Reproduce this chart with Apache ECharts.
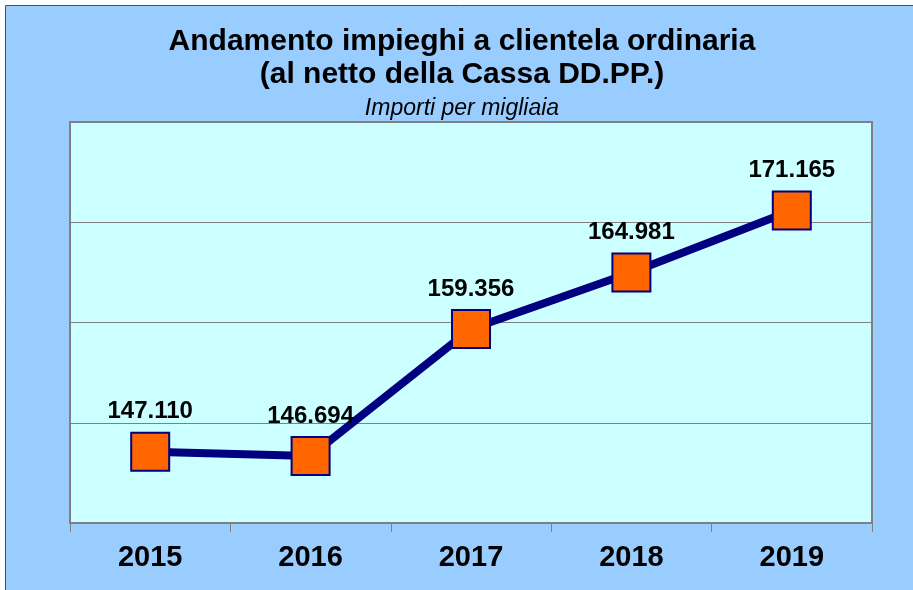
<!DOCTYPE html>
<html>
<head>
<meta charset="utf-8">
<script src="https://cdn.jsdelivr.net/npm/echarts@6/dist/echarts.min.js"></script>
<style>
  html, body { margin: 0; padding: 0; background: #ffffff; }
  #chart { width: 913px; height: 590px; }
</style>
</head>
<body>
<div id="chart"></div>
<script>
// anni e importi (in migliaia)
var anni = ['2015', '2016', '2017', '2018', '2019'];
var impieghi = [147.110, 146.694, 159.356, 164.981, 171.165];

var myChart = echarts.init(document.getElementById('chart'));

var option = {
    backgroundColor: '#ffffff',
    animation: false,
    graphic: [
        {
            type: 'rect',
            z: -10,
            shape: { x: 5.5, y: 5.5, width: 930, height: 600 },
            style: { fill: '#99CCFF', stroke: '#505050', lineWidth: 1 }
        }
    ],
    title: [
        {
            text: 'Andamento impieghi a clientela ordinaria\n(al netto della Cassa DD.PP.)',
            left: 462,
            textAlign: 'center',
            top: 25,
            padding: 0,
            textStyle: {
                fontFamily: 'Liberation Sans, Arial, sans-serif',
                fontSize: 30,
                fontWeight: 'bold',
                color: '#000',
                lineHeight: 33
            }
        },
        {
            text: 'Importi per migliaia',
            left: 462,
            textAlign: 'center',
            top: 97,
            padding: 0,
            textStyle: {
                fontFamily: 'Liberation Sans, Arial, sans-serif',
                fontSize: 23,
                fontStyle: 'italic',
                fontWeight: 'normal',
                color: '#000'
            }
        }
    ],
    grid: {
        left: 70,
        top: 122,
        width: 802,
        height: 401,
        show: true,
        backgroundColor: '#CCFFFF',
        borderColor: '#808080',
        borderWidth: 2
    },
    xAxis: {
        type: 'category',
        data: anni,
        boundaryGap: true,
        axisLine: { show: true, lineStyle: { color: '#808080', width: 2 } },
        axisTick: { show: true, length: 9, lineStyle: { color: '#808080', width: 1 } },
        axisLabel: {
            margin: 20,
            fontFamily: 'Liberation Sans, Arial, sans-serif',
            fontSize: 29,
            fontWeight: 'bold',
            color: '#000'
        },
        splitLine: { show: false }
    },
    yAxis: {
        type: 'value',
        min: 140,
        max: 180,
        interval: 10,
        axisLine: { show: false },
        axisTick: { show: false },
        axisLabel: { show: false },
        splitLine: { show: true, lineStyle: { color: '#808080', width: 1 } }
    },
    series: [
        {
            name: 'Impieghi',
            type: 'line',
            data: impieghi,
            symbol: 'rect',
            symbolSize: 38,
            lineStyle: { color: '#000080', width: 8 },
            itemStyle: { color: '#FF6600', borderColor: '#000080', borderWidth: 2 },
            label: {
                show: true,
                position: 'top',
                distance: 8,
                formatter: function (p) { return p.value.toFixed(3); },
                fontFamily: 'Liberation Sans, Arial, sans-serif',
                fontSize: 24,
                fontWeight: 'bold',
                color: '#000'
            }
        }
    ]
};

myChart.setOption(option);
</script>
</body>
</html>
